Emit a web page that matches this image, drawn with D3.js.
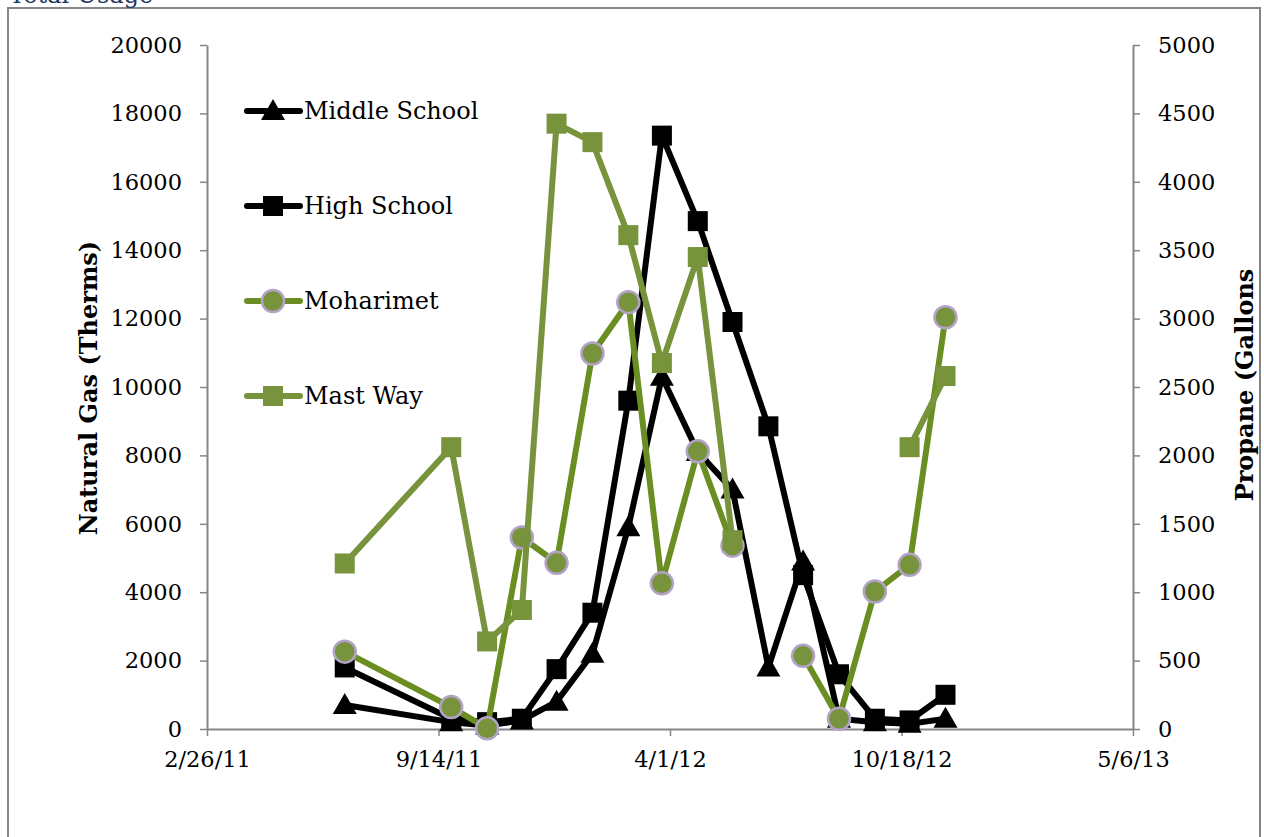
<!DOCTYPE html>
<html>
<head>
<meta charset="utf-8">
<script src="https://cdnjs.cloudflare.com/ajax/libs/d3/7.8.5/d3.min.js"></script>
<style>
  body { margin: 0; background: #fff; }
  svg text { font-family: "DejaVu Serif", "Liberation Serif", serif; }
</style>
</head>
<body>
<div id="chart"></div>
<script>
// Monthly readings (missing months simply left out, null = gap in the line)
const dates = ["2011-06-25", "2011-09-25", "2011-10-26", "2011-11-25", "2011-12-25",
    "2012-01-25", "2012-02-25", "2012-03-25", "2012-04-25", "2012-05-25", "2012-06-25",
    "2012-07-25", "2012-08-25", "2012-09-25", "2012-10-25", "2012-11-25"];

// natural gas, therms (left axis)
const middleSchool = [700, 200, 100, 250, 800, 2200, 5900, 10300, 8100, 7000, 1800, 4900, 300, 200, 150, 300];
const highSchool = [1800, 300, 200, 300, 1750, 3400, 9600, 17350, 14850, 11900, 8850, 4500, 1600, 300, 250, 1000];

// propane, gallons (right axis)
const moharimet = [565, 160, 5, 1400, 1215, 2745, 3120, 1065, 2030, 1340, null, 535, 75, 1005, 1200, 3010];
const mastWay = [1210, 2060, 640, 870, 4425, 4290, 3610, 2675, 3450, 1380, null, null, null, null, 2060, 2580];

const xTicks = ["2011-02-26", "2011-09-14", "2012-04-01", "2012-10-18", "2013-05-06"];
const leftTicks = [0, 2000, 4000, 6000, 8000, 10000, 12000, 14000, 16000, 18000, 20000];
const rightTicks = [0, 500, 1000, 1500, 2000, 2500, 3000, 3500, 4000, 4500, 5000];

const parse = d3.timeParse("%Y-%m-%d");
const fmt = d3.timeFormat("%-m/%-d/%y");

const W = 1264, H = 837;
const margin = { left: 207, right: 131, top: 45, bottom: 108 };

const svg = d3.select("#chart").append("svg")
    .attr("width", W).attr("height", H);

// outer frame
svg.append("rect")
    .attr("x", 8).attr("y", 8)
    .attr("width", 1252).attr("height", 840)
    .attr("fill", "none").attr("stroke", "#868686").attr("stroke-width", 2);

// title sits mostly above the page edge, as in the source
svg.append("text")
    .attr("x", 9).attr("y", 3)
    .attr("fill", "#1f3864")
    .style("font-size", "24px")
    .text("Total Usage");

const x = d3.scaleTime()
    .domain([parse(xTicks[0]), parse(xTicks[xTicks.length - 1])])
    .range([margin.left, W - margin.right]);
const yL = d3.scaleLinear().domain([0, 20000]).range([H - margin.bottom, margin.top]);
const yR = d3.scaleLinear().domain([0, 5000]).range([H - margin.bottom, margin.top]);

const axisColor = "#868686";
function styleAxis(g) {
    g.select(".domain").attr("stroke", axisColor).attr("stroke-width", 2);
    g.selectAll(".tick line").attr("stroke", axisColor).attr("stroke-width", 1.5);
    g.selectAll(".tick text").attr("fill", "#000").style("font-size", "22.5px")
        .style("font-family", "DejaVu Serif, serif");
}

svg.append("g")
    .attr("transform", `translate(0,${H - margin.bottom})`)
    .call(d3.axisBottom(x).tickValues(xTicks.map(parse)).tickFormat(fmt)
        .tickSize(7).tickSizeOuter(0).tickPadding(15))
    .call(styleAxis);

svg.append("g")
    .attr("transform", `translate(${margin.left},0)`)
    .call(d3.axisLeft(yL).tickValues(leftTicks).tickFormat(d3.format("d"))
        .tickSize(7).tickSizeOuter(0).tickPadding(18))
    .call(styleAxis);

svg.append("g")
    .attr("transform", `translate(${W - margin.right},0)`)
    .call(d3.axisRight(yR).tickValues(rightTicks).tickFormat(d3.format("d"))
        .tickSize(7).tickSizeOuter(0).tickPadding(18))
    .call(styleAxis);

// axis titles
svg.append("text")
    .attr("transform", `translate(97,388) rotate(-90)`)
    .attr("text-anchor", "middle")
    .style("font-size", "24px").style("font-weight", "bold")
    .text("Natural Gas (Therms)");
svg.append("text")
    .attr("transform", `translate(1253,385) rotate(-90)`)
    .attr("text-anchor", "middle")
    .style("font-size", "24px").style("font-weight", "bold")
    .text("Propane (Gallons");

const series = [
    { name: "Middle School", values: middleSchool, y: yL, line: "#000", shape: "triangle", fill: "#000", stroke: "none" },
    { name: "High School", values: highSchool, y: yL, line: "#000", shape: "square", fill: "#000", stroke: "none" },
    { name: "Moharimet", values: moharimet, y: yR, line: "#6b8e23", shape: "circle", fill: "#77933c", stroke: "#b3a2c7" },
    { name: "Mast Way", values: mastWay, y: yR, line: "#77933c", shape: "square", fill: "#77933c", stroke: "none" }
];

function marker(g, s, cx, cy) {
    if (s.shape === "circle") {
        g.append("circle").attr("cx", cx).attr("cy", cy).attr("r", 11)
            .attr("fill", s.fill).attr("stroke", s.stroke).attr("stroke-width", 2.5);
    } else if (s.shape === "square") {
        g.append("rect").attr("x", cx - 10).attr("y", cy - 10)
            .attr("width", 20).attr("height", 20).attr("fill", s.fill);
    } else {
        g.append("path")
            .attr("d", `M${cx},${cy - 12}L${cx + 12},${cy + 9}L${cx - 12},${cy + 9}Z`)
            .attr("fill", s.fill);
    }
}

series.forEach(s => {
    const data = dates.map((d, i) => ({ date: parse(d), v: s.values[i] }));
    const g = svg.append("g");
    g.append("path")
        .datum(data)
        .attr("fill", "none")
        .attr("stroke", s.line)
        .attr("stroke-width", 6)
        .attr("stroke-linejoin", "round")
        .attr("d", d3.line()
            .defined(d => d.v !== null)
            .x(d => x(d.date))
            .y(d => s.y(d.v)));
    data.filter(d => d.v !== null).forEach(d => marker(g, s, x(d.date), s.y(d.v)));
});

// legend
const legend = svg.append("g");
series.forEach((s, i) => {
    const ly = 111 + i * 95;
    legend.append("line")
        .attr("x1", 247).attr("x2", 300).attr("y1", ly).attr("y2", ly)
        .attr("stroke", s.line).attr("stroke-width", 6).attr("stroke-linecap", "round");
    marker(legend, s, 273, ly);
    legend.append("text")
        .attr("x", 304).attr("y", ly + 8)
        .style("font-size", "24px")
        .text(s.name);
});
</script>
</body>
</html>
